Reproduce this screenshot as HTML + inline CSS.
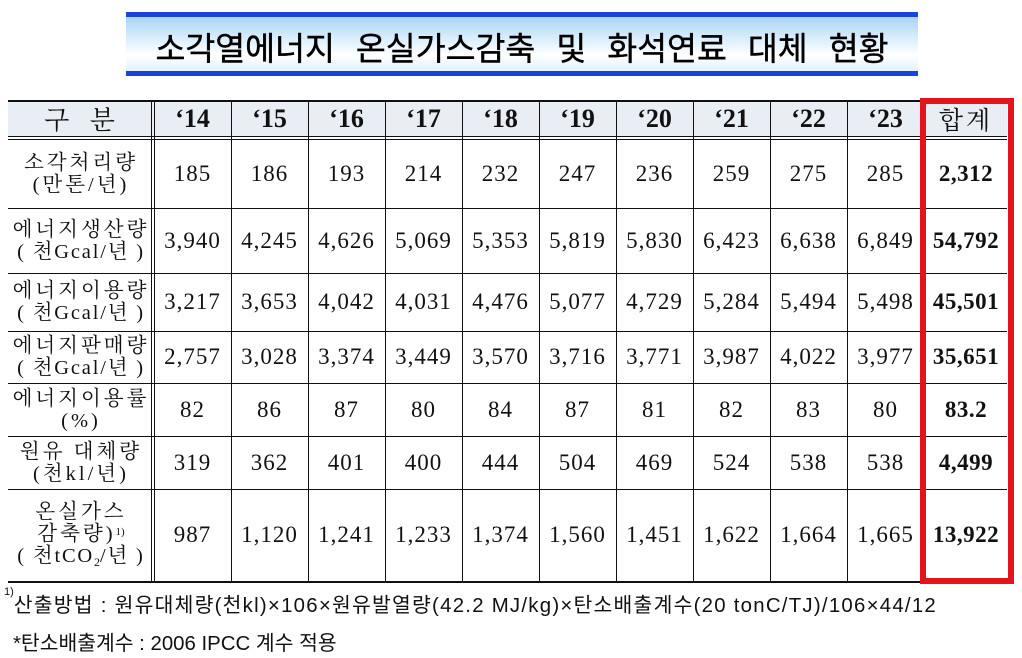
<!DOCTYPE html>
<html><head><meta charset="utf-8"><style>
*{margin:0;padding:0;box-sizing:border-box}
body{width:1022px;height:658px;background:#fff;position:relative;overflow:hidden;font-family:"Liberation Serif","Noto Serif CJK SC",serif;color:#111}
.abs{position:absolute}
.title{left:126px;top:12px;width:792px;height:64px;border-top:5px solid #1a44d8;border-bottom:5px solid #1a44d8;
background:linear-gradient(#a8d5f4 0%,#d4ebfb 35%,#ffffff 70%,#e2f2fd 100%);}
.title span{position:absolute;left:0;right:0;top:6px;text-align:center;font-family:"Liberation Sans","Noto Sans CJK KR",sans-serif;font-size:32.5px;font-weight:400;color:#000;word-spacing:12px;white-space:nowrap;-webkit-text-stroke:0.4px #000}
.hl{position:absolute;height:1px;background:#111}
.vl{position:absolute;width:1px;background:#111}
.hbg{position:absolute;left:8px;top:102px;width:999px;height:34px;background:#e9edf4}
.c{position:absolute;display:flex;align-items:center;justify-content:center;text-align:center;white-space:nowrap}
.yr{font-family:"Liberation Serif",serif;font-weight:bold;font-size:26px}
.num{font-family:"Liberation Serif",serif;font-size:23px;letter-spacing:1px}
.tot{font-family:"Liberation Serif",serif;font-size:23px;font-weight:bold;letter-spacing:0.5px}
.lab{font-family:"Liberation Serif","Noto Serif CJK SC",serif;font-size:20.5px;letter-spacing:3px;line-height:22px;padding-left:3px}
.lab .u{letter-spacing:1.8px}
.red{position:absolute;left:920px;top:98px;width:94px;height:486px;border:6px solid #e5141b}
.fn{position:absolute;font-family:"Liberation Sans","Noto Sans CJK KR",sans-serif;font-size:20.4px;white-space:nowrap;color:#111}
sup{font-size:11px;vertical-align:top;position:relative;top:-2px;letter-spacing:0}
sub{font-size:12px;vertical-align:baseline;position:relative;top:4px;letter-spacing:0}
</style></head><body>

<div class="abs title"><span>소각열에너지 온실가스감축 및 화석연료 대체 현황</span></div>

<div class="hbg"></div>

<!-- horizontal lines -->
<div class="hl" style="left:8px;top:100px;width:915px;height:2px"></div>
<div class="hl" style="left:8px;top:136px;width:999px"></div>
<div class="hl" style="left:8px;top:139px;width:999px"></div>
<div class="hl" style="left:8px;top:208px;width:999px"></div>
<div class="hl" style="left:8px;top:273px;width:999px"></div>
<div class="hl" style="left:8px;top:331px;width:999px"></div>
<div class="hl" style="left:8px;top:383px;width:999px"></div>
<div class="hl" style="left:8px;top:436px;width:999px"></div>
<div class="hl" style="left:8px;top:489px;width:999px"></div>
<div class="hl" style="left:8px;top:581px;width:915px;height:2px"></div>

<!-- vertical lines -->
<div class="vl" style="left:151px;top:101px;height:481px"></div>
<div class="vl" style="left:154px;top:101px;height:481px"></div>
<div class="vl" style="left:231px;top:101px;height:481px"></div>
<div class="vl" style="left:308px;top:101px;height:481px"></div>
<div class="vl" style="left:385px;top:101px;height:481px"></div>
<div class="vl" style="left:462px;top:101px;height:481px"></div>
<div class="vl" style="left:539px;top:101px;height:481px"></div>
<div class="vl" style="left:616px;top:101px;height:481px"></div>
<div class="vl" style="left:693px;top:101px;height:481px"></div>
<div class="vl" style="left:770px;top:101px;height:481px"></div>
<div class="vl" style="left:847px;top:101px;height:481px"></div>

<!-- header -->
<div class="c" style="left:8px;top:101px;width:143px;height:35px;font-size:26px;word-spacing:14px">구 분</div>
<div class="c yr" style="left:154px;top:101px;width:77px;height:35px">‘14</div>
<div class="c yr" style="left:231px;top:101px;width:77px;height:35px">‘15</div>
<div class="c yr" style="left:308px;top:101px;width:77px;height:35px">‘16</div>
<div class="c yr" style="left:385px;top:101px;width:77px;height:35px">‘17</div>
<div class="c yr" style="left:462px;top:101px;width:77px;height:35px">‘18</div>
<div class="c yr" style="left:539px;top:101px;width:77px;height:35px">‘19</div>
<div class="c yr" style="left:616px;top:101px;width:77px;height:35px">‘20</div>
<div class="c yr" style="left:693px;top:101px;width:77px;height:35px">‘21</div>
<div class="c yr" style="left:770px;top:101px;width:77px;height:35px">‘22</div>
<div class="c yr" style="left:847px;top:101px;width:77px;height:35px">‘23</div>
<div class="c" style="left:924px;top:101px;width:84px;height:35px;font-size:25px;letter-spacing:3px">합계</div>

<!-- labels -->
<div class="c lab" style="left:8px;top:139px;width:143px;height:69px"><div>소각처리량<br>(만톤/년)</div></div>
<div class="c lab" style="left:8px;top:208px;width:143px;height:65px"><div>에너지생산량<br><span class="u">( 천Gcal/년 )</span></div></div>
<div class="c lab" style="left:8px;top:273px;width:143px;height:58px"><div>에너지이용량<br><span class="u">( 천Gcal/년 )</span></div></div>
<div class="c lab" style="left:8px;top:331px;width:143px;height:52px"><div>에너지판매량<br><span class="u">( 천Gcal/년 )</span></div></div>
<div class="c lab" style="left:8px;top:383px;width:143px;height:53px"><div>에너지이용률<br>(%)</div></div>
<div class="c lab" style="left:8px;top:436px;width:143px;height:53px"><div>원유 대체량<br>(천kl/년)</div></div>
<div class="c lab" style="left:8px;top:489px;width:143px;height:92px"><div>온실가스<br>감축량)<sup>1)</sup><br><span class="u">( 천tCO<sub>2</sub>/년 )</span></div></div>

<!-- row 1 -->
<div class="c num" style="left:154px;top:139px;width:77px;height:69px">185</div>
<div class="c num" style="left:231px;top:139px;width:77px;height:69px">186</div>
<div class="c num" style="left:308px;top:139px;width:77px;height:69px">193</div>
<div class="c num" style="left:385px;top:139px;width:77px;height:69px">214</div>
<div class="c num" style="left:462px;top:139px;width:77px;height:69px">232</div>
<div class="c num" style="left:539px;top:139px;width:77px;height:69px">247</div>
<div class="c num" style="left:616px;top:139px;width:77px;height:69px">236</div>
<div class="c num" style="left:693px;top:139px;width:77px;height:69px">259</div>
<div class="c num" style="left:770px;top:139px;width:77px;height:69px">275</div>
<div class="c num" style="left:847px;top:139px;width:77px;height:69px">285</div>
<div class="c tot" style="left:924px;top:139px;width:84px;height:69px">2,312</div>

<!-- row 2 -->
<div class="c num" style="left:154px;top:208px;width:77px;height:65px">3,940</div>
<div class="c num" style="left:231px;top:208px;width:77px;height:65px">4,245</div>
<div class="c num" style="left:308px;top:208px;width:77px;height:65px">4,626</div>
<div class="c num" style="left:385px;top:208px;width:77px;height:65px">5,069</div>
<div class="c num" style="left:462px;top:208px;width:77px;height:65px">5,353</div>
<div class="c num" style="left:539px;top:208px;width:77px;height:65px">5,819</div>
<div class="c num" style="left:616px;top:208px;width:77px;height:65px">5,830</div>
<div class="c num" style="left:693px;top:208px;width:77px;height:65px">6,423</div>
<div class="c num" style="left:770px;top:208px;width:77px;height:65px">6,638</div>
<div class="c num" style="left:847px;top:208px;width:77px;height:65px">6,849</div>
<div class="c tot" style="left:924px;top:208px;width:84px;height:65px">54,792</div>

<!-- row 3 -->
<div class="c num" style="left:154px;top:273px;width:77px;height:58px">3,217</div>
<div class="c num" style="left:231px;top:273px;width:77px;height:58px">3,653</div>
<div class="c num" style="left:308px;top:273px;width:77px;height:58px">4,042</div>
<div class="c num" style="left:385px;top:273px;width:77px;height:58px">4,031</div>
<div class="c num" style="left:462px;top:273px;width:77px;height:58px">4,476</div>
<div class="c num" style="left:539px;top:273px;width:77px;height:58px">5,077</div>
<div class="c num" style="left:616px;top:273px;width:77px;height:58px">4,729</div>
<div class="c num" style="left:693px;top:273px;width:77px;height:58px">5,284</div>
<div class="c num" style="left:770px;top:273px;width:77px;height:58px">5,494</div>
<div class="c num" style="left:847px;top:273px;width:77px;height:58px">5,498</div>
<div class="c tot" style="left:924px;top:273px;width:84px;height:58px">45,501</div>

<!-- row 4 -->
<div class="c num" style="left:154px;top:331px;width:77px;height:52px">2,757</div>
<div class="c num" style="left:231px;top:331px;width:77px;height:52px">3,028</div>
<div class="c num" style="left:308px;top:331px;width:77px;height:52px">3,374</div>
<div class="c num" style="left:385px;top:331px;width:77px;height:52px">3,449</div>
<div class="c num" style="left:462px;top:331px;width:77px;height:52px">3,570</div>
<div class="c num" style="left:539px;top:331px;width:77px;height:52px">3,716</div>
<div class="c num" style="left:616px;top:331px;width:77px;height:52px">3,771</div>
<div class="c num" style="left:693px;top:331px;width:77px;height:52px">3,987</div>
<div class="c num" style="left:770px;top:331px;width:77px;height:52px">4,022</div>
<div class="c num" style="left:847px;top:331px;width:77px;height:52px">3,977</div>
<div class="c tot" style="left:924px;top:331px;width:84px;height:52px">35,651</div>

<!-- row 5 -->
<div class="c num" style="left:154px;top:383px;width:77px;height:53px">82</div>
<div class="c num" style="left:231px;top:383px;width:77px;height:53px">86</div>
<div class="c num" style="left:308px;top:383px;width:77px;height:53px">87</div>
<div class="c num" style="left:385px;top:383px;width:77px;height:53px">80</div>
<div class="c num" style="left:462px;top:383px;width:77px;height:53px">84</div>
<div class="c num" style="left:539px;top:383px;width:77px;height:53px">87</div>
<div class="c num" style="left:616px;top:383px;width:77px;height:53px">81</div>
<div class="c num" style="left:693px;top:383px;width:77px;height:53px">82</div>
<div class="c num" style="left:770px;top:383px;width:77px;height:53px">83</div>
<div class="c num" style="left:847px;top:383px;width:77px;height:53px">80</div>
<div class="c tot" style="left:924px;top:383px;width:84px;height:53px">83.2</div>

<!-- row 6 -->
<div class="c num" style="left:154px;top:436px;width:77px;height:53px">319</div>
<div class="c num" style="left:231px;top:436px;width:77px;height:53px">362</div>
<div class="c num" style="left:308px;top:436px;width:77px;height:53px">401</div>
<div class="c num" style="left:385px;top:436px;width:77px;height:53px">400</div>
<div class="c num" style="left:462px;top:436px;width:77px;height:53px">444</div>
<div class="c num" style="left:539px;top:436px;width:77px;height:53px">504</div>
<div class="c num" style="left:616px;top:436px;width:77px;height:53px">469</div>
<div class="c num" style="left:693px;top:436px;width:77px;height:53px">524</div>
<div class="c num" style="left:770px;top:436px;width:77px;height:53px">538</div>
<div class="c num" style="left:847px;top:436px;width:77px;height:53px">538</div>
<div class="c tot" style="left:924px;top:436px;width:84px;height:53px">4,499</div>

<!-- row 7 -->
<div class="c num" style="left:154px;top:489px;width:77px;height:92px">987</div>
<div class="c num" style="left:231px;top:489px;width:77px;height:92px">1,120</div>
<div class="c num" style="left:308px;top:489px;width:77px;height:92px">1,241</div>
<div class="c num" style="left:385px;top:489px;width:77px;height:92px">1,233</div>
<div class="c num" style="left:462px;top:489px;width:77px;height:92px">1,374</div>
<div class="c num" style="left:539px;top:489px;width:77px;height:92px">1,560</div>
<div class="c num" style="left:616px;top:489px;width:77px;height:92px">1,451</div>
<div class="c num" style="left:693px;top:489px;width:77px;height:92px">1,622</div>
<div class="c num" style="left:770px;top:489px;width:77px;height:92px">1,664</div>
<div class="c num" style="left:847px;top:489px;width:77px;height:92px">1,665</div>
<div class="c tot" style="left:924px;top:489px;width:84px;height:92px">13,922</div>

<div class="red"></div>

<div class="fn" style="left:4px;top:588px;letter-spacing:1.25px"><sup>1)</sup>산출방법 : 원유대체량(천kl)×106×원유발열량(42.2  MJ/kg)×탄소배출계수(20  tonC/TJ)/106×44/12</div>
<div class="fn" style="left:13px;top:626px">*탄소배출계수 : 2006 IPCC 계수 적용</div>

</body></html>
